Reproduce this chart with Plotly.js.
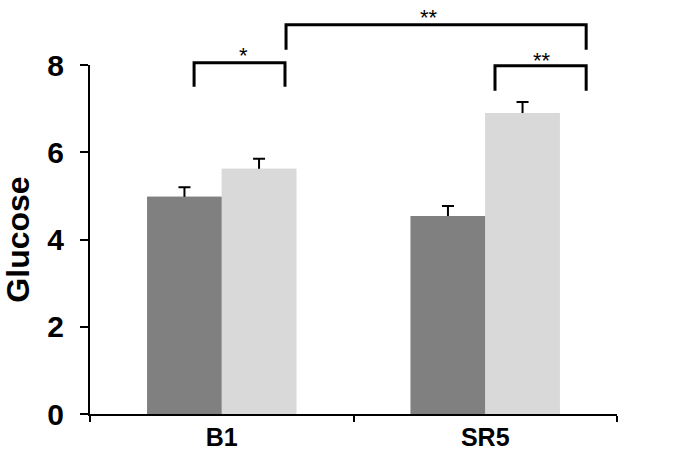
<!DOCTYPE html>
<html>
<head>
<meta charset="utf-8">
<script src="https://cdn.plot.ly/plotly-3.0.1.min.js"></script>
<style>
  body { margin: 0; background: #fff; }
  #chart { width: 698px; height: 457px; }
</style>
</head>
<body>
<div id="chart"></div>
<script>
const categories = ['B1', 'SR5'];
const darkValues = [4.98, 4.54];
const darkErrors = [0.22, 0.23];
const lightValues = [5.62, 6.90];
const lightErrors = [0.23, 0.25];
const yMax = 8;
const yTicks = [0, 2, 4, 6, 8];

// significance brackets: x in category units, y in data units
const brackets = [
    { x0: -0.105, x1: 0.24, top: 8.05, foot: 7.5, label: '*', lx: 0.0835, ly: 8.35 },
    { x0: 0.244, x1: 1.383, top: 8.92, foot: 8.35, label: '**', lx: 0.787, ly: 9.22 },
    { x0: 1.037, x1: 1.383, top: 7.98, foot: 7.41, label: '**', lx: 1.215, ly: 8.23 }
];

const baseFont = { family: 'Arial, "Liberation Sans", sans-serif', color: '#000' };
const darkColor = '#808080';
const lightColor = '#d9d9d9';

function errorBar(values) {
    return { type: 'data', array: values, color: '#000', thickness: 2, width: 6 };
}

// first pair carries the error bars, second pair is drawn over them
// so only the upper half of each error bar shows
const traces = [
    { x: categories, y: darkValues, type: 'bar', offsetgroup: 'a',
      marker: { color: darkColor }, error_y: errorBar(darkErrors) },
    { x: categories, y: lightValues, type: 'bar', offsetgroup: 'b',
      marker: { color: lightColor }, error_y: errorBar(lightErrors) },
    { x: categories, y: darkValues, type: 'bar', offsetgroup: 'a',
      marker: { color: darkColor } },
    { x: categories, y: lightValues, type: 'bar', offsetgroup: 'b',
      marker: { color: lightColor } }
];

const shapes = [];
const annotations = [];
brackets.forEach(b => {
    const line = { color: '#000', width: 3 };
    shapes.push({ type: 'path', xref: 'x', yref: 'paper', line: line,
        path: 'M ' + b.x0 + ',' + (b.foot / yMax) + ' L ' + b.x0 + ',' + (b.top / yMax) +
              ' L ' + b.x1 + ',' + (b.top / yMax) + ' L ' + b.x1 + ',' + (b.foot / yMax) });
    annotations.push({ x: b.lx, y: b.ly / yMax, xref: 'x', yref: 'paper', text: b.label,
        showarrow: false, yanchor: 'middle', yshift: -6,
        font: Object.assign({}, baseFont, { size: 22 }) });
});

const layout = {
    width: 698,
    height: 457,
    margin: { l: 90, r: 81, t: 65, b: 43 },
    paper_bgcolor: '#fff',
    plot_bgcolor: '#fff',
    showlegend: false,
    barmode: 'group',
    bargap: 0.434,
    bargroupgap: 0,
    xaxis: {
        range: [-0.5, 1.5],
        showline: true,
        linecolor: '#000',
        linewidth: 2,
        ticks: 'outside',
        tickson: 'boundaries',
        ticklen: 6,
        tickwidth: 2,
        tickcolor: '#000',
        showgrid: false,
        zeroline: false,
        tickfont: Object.assign({}, baseFont, { size: 25, weight: 'bold' })
    },
    yaxis: {
        range: [0, yMax],
        tickvals: yTicks,
        showline: true,
        linecolor: '#000',
        linewidth: 2,
        ticks: 'outside',
        ticklen: 8,
        tickwidth: 2,
        tickcolor: '#000',
        showgrid: false,
        zeroline: false,
        ticklabelstandoff: 10,
        tickfont: Object.assign({}, baseFont, { size: 30, weight: 'bold' }),
        title: { text: 'Glucose', standoff: 8,
                 font: Object.assign({}, baseFont, { size: 32, weight: 'bold' }) }
    },
    shapes: shapes,
    annotations: annotations
};

Plotly.newPlot('chart', traces, layout, { staticPlot: true });
</script>
</body>
</html>
